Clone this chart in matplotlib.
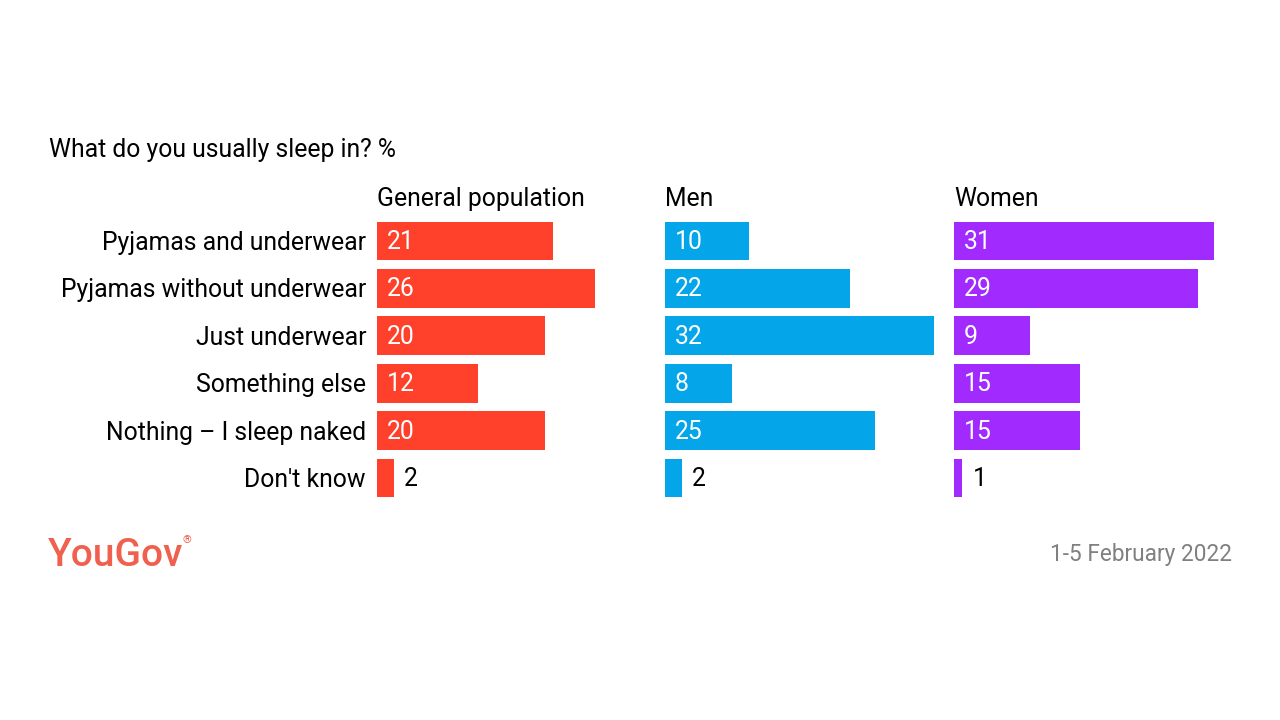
import matplotlib
matplotlib.use("Agg")
import matplotlib.pyplot as plt

categories = ["Pyjamas and underwear", "Pyjamas without underwear", "Just underwear",
              "Something else", "Nothing \u2013 I sleep naked", "Don't know"]
general = [21, 26, 20, 12, 20, 2]
men = [10, 22, 32, 8, 25, 2]
women = [31, 29, 9, 15, 15, 1]
panel_titles = ["General population", "Men", "Women"]
colors = ["#ff412c", "#05a6e9", "#a12bff"]

plt.rcParams['font.family'] = ['Roboto', 'DejaVu Sans']
W, H = 1280, 720
fig = plt.figure(figsize=(12.8, 7.2), dpi=100)
fig.patch.set_facecolor("white")

FS = 17.8
row_h = 47.4
top_px = 241 - row_h / 2
n = len(categories)
bottom_px = top_px + n * row_h
panel_left = [377, 665, 954]
panel_w = 280
scale = 8.4  # px per unit

for i, (vals, title, col) in enumerate(zip([general, men, women], panel_titles, colors)):
    ax = fig.add_axes([panel_left[i] / W, (H - bottom_px) / H, panel_w / W, (bottom_px - top_px) / H])
    ax.set_xlim(0, panel_w / scale)
    ax.set_ylim(n - 0.5, -0.5)
    ax.barh(range(n), vals, height=0.82, color=col)
    for j, v in enumerate(vals):
        if v >= 5:
            ax.text(1.2, j - 0.03, str(v), color="white", fontsize=FS, va="center_baseline", ha="left")
        else:
            ax.text(v + 1.2, j - 0.03, str(v), color="black", fontsize=FS, va="center_baseline", ha="left")
    ax.axis("off")
    fig.text(panel_left[i] / W, 1 - 196.5 / H, title, fontsize=FS, va="center_baseline", ha="left", color="black")

for j, c in enumerate(categories):
    fig.text(366 / W, 1 - (240.5 + j * row_h) / H, c, fontsize=FS, va="center_baseline", ha="right", color="black")

fig.text(49 / W, 1 - 147.5 / H, "What do you usually sleep in? %", fontsize=FS, va="center_baseline", ha="left")
fig.text(48 / W, 1 - 551 / H, "YouGov", fontsize=28, fontweight="medium", color="#f0604e",
         va="center_baseline", ha="left")
fig.text(187 / W, 1 - 540 / H, "\u00ae", fontsize=8, color="#f0604e", va="center", ha="center")
fig.text(1232 / W, 1 - 552.5 / H, "1-5 February 2022", fontsize=16.3, color="#808080",
         va="center_baseline", ha="right")

fig.savefig("out.png", dpi=100, facecolor="white")
